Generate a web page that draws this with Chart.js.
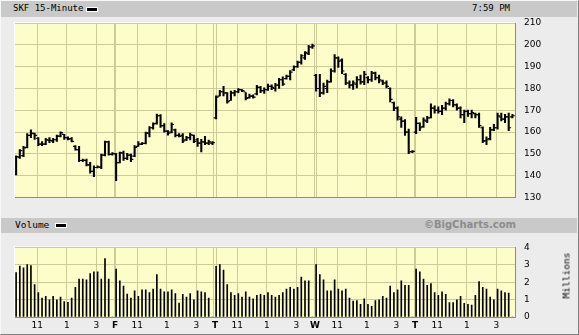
<!DOCTYPE html>
<html>
<head>
<meta charset="utf-8">
<script src="https://cdn.jsdelivr.net/npm/chart.js@4/dist/chart.umd.min.js"></script>
<style>
body{margin:0;background:#ececec;position:relative;width:579px;height:335px;overflow:hidden}
#frame{position:absolute;left:0;top:0;width:579px;height:335px;box-sizing:border-box;border:1px solid;border-color:#f8f8f8 #7f7f7f #7f7f7f #f8f8f8}
.band{position:absolute;left:1px;width:576px;background:#c9c9c9;font-family:"DejaVu Sans Mono",monospace;color:#000}
.band span{position:absolute}
.swatch{display:block;width:10px;height:3px;background:#000;border:1px solid #fff}
canvas{position:absolute;left:0}
#millions{position:absolute;left:542px;top:270px;width:48px;text-align:center;font:9.5px "DejaVu Sans Mono",monospace;transform:rotate(-90deg)}
</style>
</head>
<body>
<div id="frame"></div>
<canvas id="price" width="579" height="212" style="top:0"></canvas>
<canvas id="volume" width="579" height="102" style="top:233px"></canvas>
<div class="band" style="top:1px;height:16px;font-size:9px">
  <span style="left:12px;top:2px">SKF 15-Minute</span>
  <span class="swatch" style="left:85px;top:6px"></span>
  <span style="right:67px;top:2px">7:59 PM</span>
</div>
<div class="band" style="top:218px;height:15px;font-size:9.5px">
  <span style="left:14px;top:1px">Volume</span>
  <span class="swatch" style="left:54px;top:5px"></span>
  <span style="right:61px;top:1px;font:bold 10px 'DejaVu Sans',sans-serif;color:#8c8c8c">©BigCharts.com</span>
</div>
<div id="millions">Millions</div>
<script>
// 15-minute bars, 27 per session (9:30 .. 16:00), five sessions
const barsPerDay = 27;
const sessionOpen = '9:30';
const dayLetters = ['', 'F', 'T', 'W', 'T'];
const hourTimes = ['11:00', '13:00', '15:00'];
const hourLabels = ['11', '1', '3'];

const opens = [
  140.8,148.5,149.2,153.0,158.5,159.3,157.2,154.5,154.5,156.3,156.0,156.5,158.2,159.0,157.5,157.0,153.5,152.0,147.0,147.0,145.0,142.0,143.8,144.0,149.5,155.5,149.8,
  150.0,146.0,150.5,148.0,149.5,149.0,153.5,154.5,154.8,159.5,162.0,164.0,167.5,163.0,160.5,160.0,161.0,158.5,158.5,156.5,157.5,158.5,156.5,155.0,155.5,155.0,155.0,
  166.5,176.5,178.5,178.0,174.5,178.0,178.5,179.5,178.5,175.8,176.5,177.5,180.5,179.0,179.5,181.0,180.0,181.5,184.0,184.5,185.5,188.5,190.0,192.0,194.0,196.0,199.0,
  186.0,180.0,178.0,180.0,183.0,188.0,194.0,193.0,186.5,182.5,181.5,182.0,184.0,183.0,185.0,184.0,187.0,185.0,183.5,182.5,180.0,173.5,171.0,166.0,165.0,160.0,151.0,
  160.0,164.0,162.5,165.0,166.5,171.0,170.0,169.5,171.0,173.0,174.5,172.5,171.0,168.0,169.5,168.5,168.5,168.0,162.0,156.0,157.0,161.0,162.0,167.0,166.0,167.0,167.0
];
const highs = [
  149.1,152.0,153.5,159.3,161.0,159.6,157.5,155.7,157.1,157.5,157.1,158.6,160.1,159.0,157.8,157.5,153.8,153.5,147.7,147.7,146.2,144.5,144.5,149.9,155.9,155.9,150.6,
  150.3,150.9,151.3,150.3,149.9,153.8,155.7,155.2,160.0,162.5,164.3,168.3,168.0,163.9,160.7,164.3,161.4,159.3,159.3,158.1,159.6,158.6,157.1,156.7,158.1,156.4,155.7,
  176.6,179.1,181.0,178.1,178.8,179.1,180.0,179.5,178.1,177.4,177.1,181.4,181.0,180.3,182.0,181.7,182.4,184.6,185.3,186.1,188.2,190.4,192.6,195.5,196.9,199.8,200.3,
  186.5,186.5,182.5,183.9,189.0,195.5,194.5,193.6,186.8,183.5,183.5,185.4,186.1,187.8,185.4,187.8,187.5,186.1,183.9,183.5,180.3,173.8,171.6,167.0,165.8,161.4,151.6,
  166.8,164.3,166.5,167.2,173.0,172.0,171.6,172.3,173.8,175.2,174.9,173.0,171.6,170.1,170.1,170.1,168.7,168.7,162.4,157.8,162.2,163.6,168.7,168.7,168.2,168.7,168.2
];
const lows = [
  140.4,148.0,148.8,152.8,157.5,156.7,153.8,153.8,154.2,155.2,155.2,155.7,157.8,156.7,156.4,155.5,151.7,146.5,146.5,144.5,141.2,139.6,143.6,143.3,149.1,149.4,149.4,
  137.8,145.9,147.0,147.4,146.5,148.8,153.5,154.2,154.6,157.8,161.4,163.6,162.2,160.0,158.6,159.6,157.8,157.8,155.2,156.1,156.4,155.2,153.5,150.9,154.2,154.2,154.2,
  166.1,176.6,176.6,173.3,174.5,176.6,178.1,178.5,174.8,175.6,175.6,177.1,178.1,177.7,179.1,179.5,178.8,180.0,181.4,184.3,183.9,188.2,189.7,191.1,193.3,195.5,198.4,
  178.8,176.2,177.4,178.1,182.9,187.5,189.7,186.8,181.7,180.3,179.6,180.3,182.0,181.7,182.5,183.2,183.9,182.5,181.7,180.3,173.8,169.8,165.5,162.2,158.5,150.1,150.6,
  159.3,160.7,162.2,164.3,166.5,168.7,168.7,168.0,170.1,172.3,171.6,170.1,166.5,164.3,167.2,166.5,166.5,162.2,155.2,154.2,156.4,160.7,161.4,165.1,164.3,160.7,166.5
];
const closes = [
  148.8,151.5,152.8,158.5,159.5,158.5,154.5,154.5,156.5,156.2,156.5,158.2,159.8,157.5,156.8,155.8,152.0,147.0,147.2,145.0,142.0,143.8,144.0,149.5,155.5,149.8,150.2,
  146.0,150.5,148.0,149.5,147.5,153.0,154.5,154.8,159.5,162.0,163.8,167.5,163.0,160.5,159.5,163.5,158.5,158.0,156.0,157.5,158.8,155.8,155.0,155.5,155.0,155.5,155.2,
  176.0,178.5,178.0,174.0,178.0,178.5,179.5,179.0,175.5,176.5,176.0,180.5,179.0,179.5,181.0,180.5,181.5,184.0,182.0,185.5,187.5,190.0,192.0,195.0,196.5,199.0,199.5,
  180.0,178.0,181.0,183.0,188.0,194.0,192.5,188.0,182.5,181.5,182.5,184.0,183.0,186.5,184.0,187.0,185.0,184.0,182.5,181.0,175.0,171.0,167.0,165.0,160.0,151.0,151.2,
  164.0,162.0,165.5,166.5,171.0,170.0,169.5,171.0,173.0,174.5,172.5,171.0,168.0,169.5,168.5,169.0,168.0,163.0,156.0,156.5,161.0,162.0,167.5,166.0,167.0,162.0,167.5
];
// volume in millions
const volumes = [
  2.56,2.93,2.82,3.01,2.96,1.87,1.40,1.09,1.19,0.99,1.19,0.99,1.14,0.88,0.85,1.09,1.71,2.18,2.18,2.13,2.49,2.60,2.60,2.18,3.36,2.18,0,
  2.75,2.08,1.78,1.32,1.09,1.51,1.19,1.56,1.56,1.40,1.61,2.44,1.61,1.45,1.45,1.56,1.35,0.80,1.30,1.14,1.35,0.99,1.51,1.45,1.40,1.09,0,
  2.91,3.01,2.70,1.87,1.40,1.25,1.35,1.14,1.45,1.14,1.04,1.25,1.30,1.25,1.40,1.25,1.14,1.25,1.40,1.61,1.71,1.61,1.71,2.30,2.08,2.08,0,
  3.01,2.44,2.13,1.51,1.51,2.13,1.61,1.51,1.61,1.09,0.92,0.94,0.73,1.04,0.73,0.62,0.94,0.99,1.19,1.09,1.77,1.40,1.56,2.08,1.82,1.82,0,
  2.75,2.60,2.18,1.82,1.92,1.40,1.25,1.45,1.30,0.83,0.83,0.99,1.19,0.78,0.73,0.68,1.25,2.03,1.71,1.61,1.14,0.99,1.61,1.51,1.40,1.37,0
];

const gridColor = '#cccc99';
const plotColor = '#fdfdc9';
const totalSlots = barsPerDay * dayLetters.length;
const toMin = t => { const [h, m] = t.split(':').map(Number); return h * 60 + m; };
const hourSlots = hourTimes.map(t => (toMin(t) - toMin(sessionOpen)) / 15);
const barX = i => i + 0.3;

// x ticks: double line at each new session (with the day letter), lines at 11, 1, 3
const xTicks = [];
dayLetters.forEach((letter, d) => {
  const start = d * barsPerDay;
  if (d > 0) {
    xTicks.push({value: start - 0.27, kind: 'sep', label: ''});
    xTicks.push({value: start, kind: 'day', label: letter});
    xTicks.push({value: start + 0.27, kind: 'sep', label: ''});
  }
  hourSlots.forEach((s, k) => xTicks.push({value: start + s, kind: 'hour', label: hourLabels[k]}));
});
const findTick = v => xTicks.find(t => Math.abs(t.value - v) < 1e-6);

const plotBg = {
  id: 'plotBg',
  beforeDraw(chart) {
    const {ctx, chartArea: a} = chart;
    ctx.save();
    ctx.fillStyle = plotColor;
    ctx.fillRect(a.left, a.top, a.width, a.height);
    ctx.strokeStyle = '#ffffff';
    ctx.beginPath();
    ctx.moveTo(a.left - 0.5, a.bottom);
    ctx.lineTo(a.left - 0.5, a.top - 0.5);
    ctx.lineTo(a.right, a.top - 0.5);
    ctx.stroke();
    ctx.restore();
  }
};

function xScale(showLabels) {
  return {
    type: 'linear', min: 0, max: totalSlots, offset: false,
    afterBuildTicks: s => { s.ticks = xTicks.map(t => ({value: t.value})); },
    afterFit: s => { s.height = showLabels ? 14 : 0; },
    ticks: {
      display: showLabels, autoSkip: false, maxRotation: 0, padding: 3, color: '#000',
      callback: v => { const t = findTick(v); return t ? t.label : ''; },
      font: c => { const t = c.tick && findTick(c.tick.value); return {family: 'DejaVu Sans', size: 9, weight: t && t.kind === 'day' ? 'bold' : 'normal'}; }
    },
    grid: {
      offset: false, drawTicks: false, lineWidth: 1,
      color: c => { const t = c.tick && findTick(c.tick.value); return t && t.kind === 'day' ? 'rgba(0,0,0,0)' : gridColor; }
    },
    border: {display: true, color: '#8a8a8a'}
  };
}

Chart.defaults.font.family = 'DejaVu Sans';
Chart.defaults.font.size = 9;
Chart.defaults.color = '#000';

const idx = opens.map((_, i) => i);
const tickStyle = {pointStyle: 'line', pointRadius: 1, pointHoverRadius: 1, pointBorderWidth: 1.2, pointBorderColor: '#000'};

new Chart(document.getElementById('price'), {
  type: 'bar',
  data: {
    datasets: [
      {type: 'bar', data: idx.map(i => ({x: barX(i), y: [lows[i], highs[i]]})), backgroundColor: '#000', barThickness: 1.4, grouped: false},
      {type: 'scatter', data: idx.map(i => ({x: barX(i) - 0.38, y: opens[i]})), ...tickStyle},
      {type: 'scatter', data: idx.map(i => ({x: barX(i) + 0.38, y: closes[i]})), ...tickStyle}
    ]
  },
  options: {
    responsive: false, animation: false, devicePixelRatio: 1,
    layout: {padding: {left: 15, top: 23, right: 0, bottom: 4.7}},
    plugins: {legend: {display: false}, tooltip: {enabled: false}},
    scales: {
      x: xScale(false),
      y: {
        position: 'right', min: 130, max: 210,
        afterFit: s => { s.width = 64; },
        ticks: {stepSize: 10, padding: 9, color: '#000', font: {family: 'DejaVu Sans', size: 9}},
        grid: {color: gridColor, drawTicks: false},
        border: {display: true, color: '#8a8a8a'}
      }
    }
  },
  plugins: [plotBg]
});

new Chart(document.getElementById('volume'), {
  type: 'bar',
  data: {
    datasets: [
      {data: idx.map(i => ({x: barX(i), y: volumes[i]})), backgroundColor: '#000', barThickness: 1}
    ]
  },
  options: {
    responsive: false, animation: false, devicePixelRatio: 1,
    layout: {padding: {left: 15, top: 6.5, right: 0, bottom: 4}},
    plugins: {legend: {display: false}, tooltip: {enabled: false}},
    scales: {
      x: xScale(true),
      y: {
        position: 'right', min: 0, max: 4,
        afterFit: s => { s.width = 64; },
        ticks: {stepSize: 1, padding: 9, color: '#000', font: {family: 'DejaVu Sans', size: 9}},
        grid: {color: gridColor, drawTicks: false},
        border: {display: true, color: '#8a8a8a'}
      }
    }
  },
  plugins: [plotBg]
});
</script>
</body>
</html>
